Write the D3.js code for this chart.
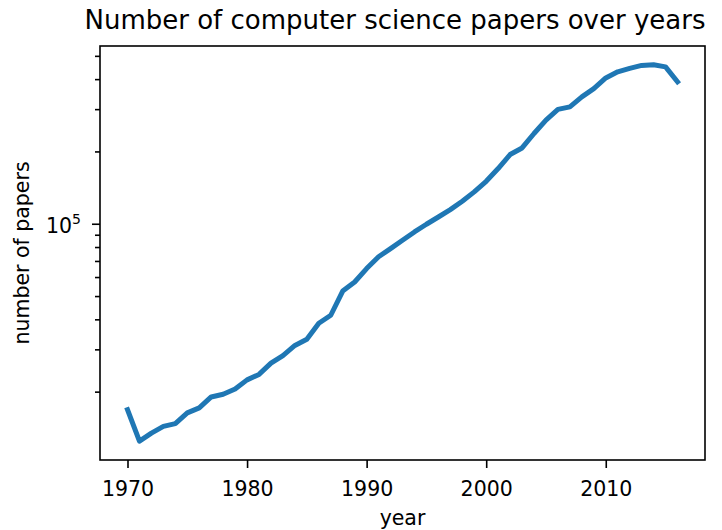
<!DOCTYPE html>
<html>
<head>
<meta charset="utf-8">
<script src="https://cdn.jsdelivr.net/npm/d3@7"></script>
<style>
  body { margin: 0; background: #fff; }
  svg { display: block; font-family: "DejaVu Sans", sans-serif; }
</style>
</head>
<body>
<svg width="722" height="530"></svg>
<script>
const years = d3.range(1970, 2017);
const papers = [
  16900, 12500, 13500, 14400, 14800, 16400, 17200, 19100, 19600, 20600,
  22500, 23700, 26400, 28400, 31300, 33200, 38700, 41800, 52700, 57500,
  65400, 73200, 79200, 85800, 92900, 100000, 107200, 115100, 124700, 136400,
  151000, 170600, 195100, 207800, 238700, 271300, 300600, 308200, 339200, 367000,
  406500, 431100, 445600, 458300, 461000, 452000, 391700
];
const xTicks = [1970, 1980, 1990, 2000, 2010];

const data = years.map((y, i) => ({ year: y, value: papers[i] }));

const svg = d3.select("svg");
const margin = { top: 46, right: 17, bottom: 70, left: 100 };
const width = 722, height = 530;
const innerWidth = width - margin.left - margin.right;
const innerHeight = height - margin.top - margin.bottom;

// matplotlib style 5% margins
const xExt = d3.extent(years);
const xPad = (xExt[1] - xExt[0]) * 0.05;
const xScale = d3.scaleLinear()
  .domain([xExt[0] - xPad, xExt[1] + xPad])
  .range([0, innerWidth]);

const lo = Math.log10(d3.min(papers)), hi = Math.log10(d3.max(papers));
const yPad = (hi - lo) * 0.05;
const yScale = d3.scaleLog()
  .domain([Math.pow(10, lo - yPad), Math.pow(10, hi + yPad)])
  .range([innerHeight, 0]);

const g = svg.append("g")
  .attr("transform", `translate(${margin.left}, ${margin.top})`);

// line
const line = d3.line()
  .x(d => xScale(d.year))
  .y(d => yScale(d.value));

g.append("path")
  .datum(data)
  .attr("fill", "none")
  .attr("stroke", "#1f77b4")
  .attr("stroke-width", 5)
  .attr("stroke-linejoin", "round")
  .attr("stroke-linecap", "square")
  .attr("d", line);

// frame
g.append("rect")
  .attr("width", innerWidth)
  .attr("height", innerHeight)
  .attr("fill", "none")
  .attr("stroke", "#000")
  .attr("stroke-width", 1.6);

// x axis
const xAxis = d3.axisBottom(xScale)
  .tickValues(xTicks)
  .tickFormat(d3.format("d"))
  .tickSize(8)
  .tickPadding(13);

const xg = g.append("g")
  .attr("transform", `translate(0, ${innerHeight})`)
  .call(xAxis);
xg.select(".domain").remove();
xg.selectAll(".tick line").attr("stroke-width", 1.6);
xg.selectAll(".tick text")
  .attr("font-size", 20.5)
  .attr("font-family", "DejaVu Sans")
  .attr("fill", "#000");

// y axis: minor ticks
const [d0, d1] = yScale.domain();
const minor = [];
for (let e = Math.floor(Math.log10(d0)); e <= Math.ceil(Math.log10(d1)); e++) {
  for (let m = 2; m <= 9; m++) {
    const v = m * Math.pow(10, e);
    if (v >= d0 && v <= d1) minor.push(v);
  }
}
const major = yScale.ticks().filter(v => Math.abs(Math.log10(v) % 1) < 1e-9);

g.append("g").selectAll("line")
  .data(minor)
  .join("line")
  .attr("x1", -5).attr("x2", 0)
  .attr("y1", d => yScale(d)).attr("y2", d => yScale(d))
  .attr("stroke", "#000")
  .attr("stroke-width", 1.6);

const majorG = g.append("g").selectAll("g")
  .data(major)
  .join("g")
  .attr("transform", d => `translate(0, ${yScale(d)})`);

majorG.append("line")
  .attr("x1", -8).attr("x2", 0)
  .attr("stroke", "#000")
  .attr("stroke-width", 1.6);

const lab = majorG.append("text")
  .attr("x", -19)
  .attr("y", 9)
  .attr("text-anchor", "end")
  .attr("font-size", 20.5)
  .attr("fill", "#000");
lab.append("tspan").text("10");
lab.append("tspan")
  .attr("dy", -9)
  .attr("font-size", 14)
  .text(d => Math.round(Math.log10(d)));

// labels
svg.append("text")
  .attr("x", 395)
  .attr("y", 29)
  .attr("text-anchor", "middle")
  .attr("font-size", 26)
  .attr("fill", "#000")
  .text("Number of computer science papers over years");

svg.append("text")
  .attr("x", margin.left + innerWidth / 2)
  .attr("y", 525)
  .attr("text-anchor", "middle")
  .attr("font-size", 20.5)
  .attr("fill", "#000")
  .text("year");

svg.append("text")
  .attr("transform", `translate(29, ${margin.top + innerHeight / 2}) rotate(-90)`)
  .attr("text-anchor", "middle")
  .attr("font-size", 20.5)
  .attr("fill", "#000")
  .text("number of papers");
</script>
</body>
</html>
